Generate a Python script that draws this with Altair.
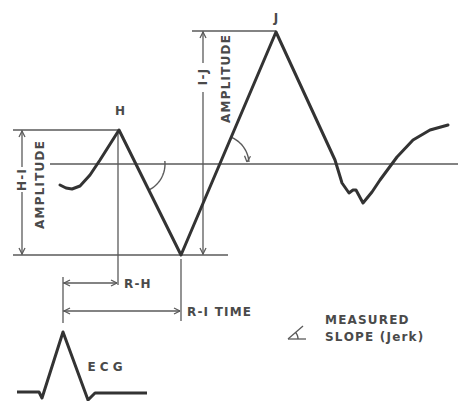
import math
import altair as alt
import pandas as pd

W, H = 458, 401

# Ballistocardiogram trace (H, I, J waves), drawing units
bcg_x = [60, 66, 72, 80, 90, 100, 119, 181, 276, 335, 342, 349, 353, 356, 363, 372, 380, 397, 413, 430, 448]
bcg_y = [185, 188, 189, 186, 175, 160, 130, 255, 32, 160, 183, 193, 190, 190, 203, 192, 180, 157, 140, 130, 125]

# ECG complex with R peak
ecg_x = [17, 39, 42, 63, 88, 95, 147]
ecg_y = [392, 392, 398, 332, 400, 393, 393]

# Thin guide lines: x1, y1, x2, y2
seg_x1 = [50, 13, 13, 192, 118, 181, 63, 63, 63, 22, 22, 203, 203, 288, 288]
seg_y1 = [164, 130, 255, 31, 130, 259, 277, 283, 311, 130, 192, 31, 92, 339, 339]
seg_x2 = [458, 119, 228, 276, 118, 181, 63, 117, 180, 22, 22, 203, 203, 306, 303]
seg_y2 = [164, 130, 255, 31, 285, 321, 323, 283, 311, 167, 255, 63, 255, 339, 326]

# Arrow tips: x, y, direction (degrees, screen coords)
tip_x = [64, 117, 64, 180, 22, 22, 203, 203, 247]
tip_y = [283, 283, 311, 311, 131, 254, 32, 254, 162]
tip_dir = [180, 0, 180, 0, 270, 90, 270, 90, 95]

# Angle arcs: centre x, centre y, radius, start, end (degrees)
arc_cx = [136, 220, 288]
arc_cy = [164, 164, 339]
arc_r = [29, 29, 10]
arc_a0 = [-6, -67, -40]
arc_a1 = [63, -4, 0]

# Labels
c_text = ["H", "J", "E C G"]
c_x = [120, 276, 105]
c_y = [111, 18, 367]

l_text = ["R-H", "R-I TIME", "MEASURED", "SLOPE (Jerk)"]
l_x = [124, 187, 325, 325]
l_y = [284, 312, 320, 337]

r_text = ["H-I", "AMPLITUDE", "I-J", "AMPLITUDE"]
r_x = [22, 40, 203, 226]
r_y = [180, 185, 77, 79]

LINE = "#333333"
THIN = "#5a5a5a"
TEXT = "#4a4a4a"


def spaced(s):
    # open lettering: a hair space between characters
    return "\u200a".join(s)


xs = alt.Scale(domain=[0, W], nice=False, zero=False)
ys = alt.Scale(domain=[0, H], nice=False, zero=False, reverse=True)


def X(f):
    return alt.X(f, type="quantitative", scale=xs, axis=None)


def Y(f):
    return alt.Y(f, type="quantitative", scale=ys, axis=None)


bcg = pd.DataFrame({"x": bcg_x, "y": bcg_y, "i": range(len(bcg_x))})
ecg = pd.DataFrame({"x": ecg_x, "y": ecg_y, "i": range(len(ecg_x))})

segs = pd.DataFrame({"x": seg_x1, "y": seg_y1, "x2": seg_x2, "y2": seg_y2})

# chevron arrowheads built from each tip and its direction
head_rows = []
L, Wd = 6.0, 3.0
for tx, ty, d in zip(tip_x, tip_y, tip_dir):
    dx, dy = math.cos(math.radians(d)), math.sin(math.radians(d))
    bx, by = tx - L * dx, ty - L * dy
    for s in (1, -1):
        head_rows.append({"x": tx, "y": ty, "x2": bx - s * Wd * dy, "y2": by + s * Wd * dx})
heads = pd.DataFrame(head_rows)

arc_rows = []
for k, (cx, cy, r, a0, a1) in enumerate(zip(arc_cx, arc_cy, arc_r, arc_a0, arc_a1)):
    n = 24
    for j in range(n + 1):
        a = math.radians(a0 + (a1 - a0) * j / n)
        arc_rows.append({"x": cx + r * math.cos(a), "y": cy + r * math.sin(a), "k": k, "i": j})
arcs = pd.DataFrame(arc_rows)

trace = alt.Chart(bcg).mark_line(color=LINE, strokeWidth=3, strokeJoin="round", strokeCap="round").encode(
    x=X("x"), y=Y("y"), order="i:Q")
ecg_line = alt.Chart(ecg).mark_line(color=LINE, strokeWidth=3, strokeJoin="round").encode(
    x=X("x"), y=Y("y"), order="i:Q")
guides = alt.Chart(segs).mark_rule(color=THIN, strokeWidth=1.3).encode(
    x=X("x"), y=Y("y"), x2="x2", y2="y2")
arrowheads = alt.Chart(heads).mark_rule(color=THIN, strokeWidth=1.3).encode(
    x=X("x"), y=Y("y"), x2="x2", y2="y2")
arc_lines = alt.Chart(arcs).mark_line(color=THIN, strokeWidth=1.4).encode(
    x=X("x"), y=Y("y"), detail="k:N", order="i:Q")

font = dict(font="DejaVu Sans", fontSize=12, fontWeight="bold", color=TEXT)
t_center = alt.Chart(pd.DataFrame({"t": c_text, "x": c_x, "y": c_y})).mark_text(
    align="center", baseline="middle", **font).encode(x=X("x"), y=Y("y"), text="t:N")
t_left = alt.Chart(pd.DataFrame({"t": [spaced(t) for t in l_text], "x": l_x, "y": l_y})).mark_text(
    align="left", baseline="middle", **font).encode(x=X("x"), y=Y("y"), text="t:N")
t_rot = alt.Chart(pd.DataFrame({"t": [spaced(t) for t in r_text], "x": r_x, "y": r_y})).mark_text(
    align="center", baseline="middle", angle=270, **font).encode(x=X("x"), y=Y("y"), text="t:N")

chart = alt.layer(guides, arrowheads, arc_lines, trace, ecg_line, t_center, t_left, t_rot).properties(
    width=W, height=H, padding=0, autosize=alt.AutoSizeParams(type="none"), background="white"
).configure_view(stroke=None)

chart.save("out.html", embed_options={"renderer": "svg", "actions": False})
